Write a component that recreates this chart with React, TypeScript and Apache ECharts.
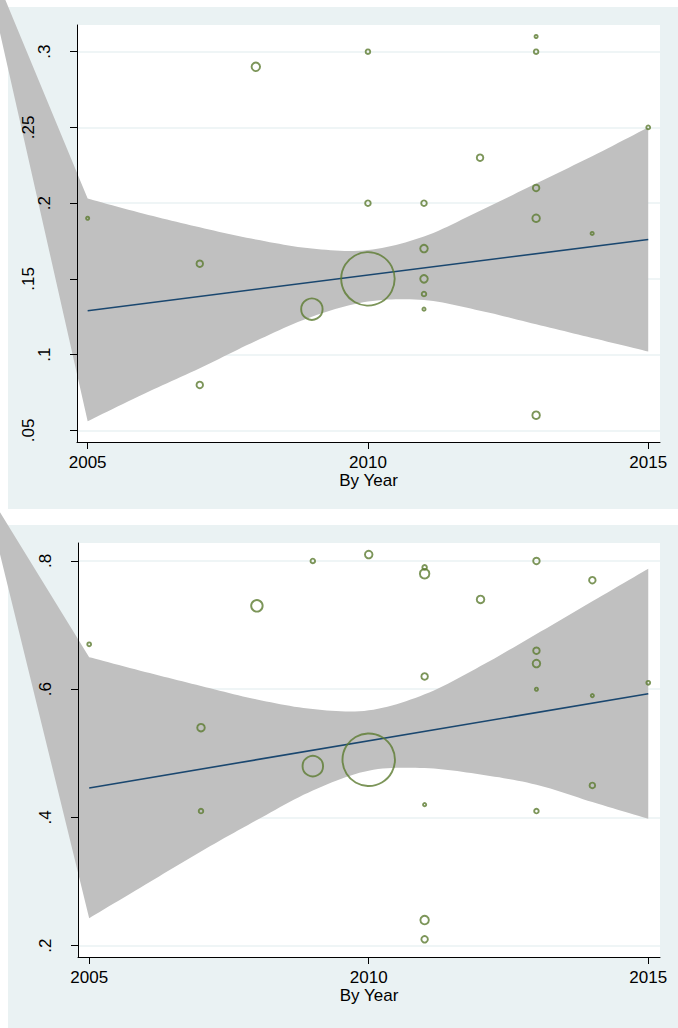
import React, { useEffect, useRef } from "react";
import * as echarts from "echarts";

// ---------- data ----------
const xTickValues = [2005, 2010, 2015];
const xTickLabels = ["2005", "2010", "2015"];
const xAxisTitle = "By Year";

const topYTickValues = [0.05, 0.1, 0.15, 0.2, 0.25, 0.3];
const topYTickLabels = [".05", ".1", ".15", ".2", ".25", ".3"];
const topYMainLabelValues = [0.1, 0.2, 0.3];
const topYAltLabelValues = [0.05, 0.15, 0.25];

const bottomYTickValues = [0.2, 0.4, 0.6, 0.8];
const bottomYTickLabels = [".2", ".4", ".6", ".8"];

// top panel points
const topYears = [2005, 2007, 2007, 2008, 2009, 2010, 2010, 2010, 2011, 2011, 2011, 2011, 2011, 2012, 2013, 2013, 2013, 2013, 2013, 2014, 2015];
const topValues = [0.19, 0.16, 0.08, 0.29, 0.13, 0.30, 0.20, 0.15, 0.20, 0.17, 0.15, 0.14, 0.13, 0.23, 0.31, 0.30, 0.21, 0.19, 0.06, 0.18, 0.25];
const topWeights = [1.1, 4.7, 4.7, 8.0, 51, 2.3, 3.4, 318, 3.4, 6.3, 6.3, 2.3, 1.1, 4.7, 1.1, 2.3, 4.7, 6.3, 6.3, 1.1, 1.6];

// top panel fit and confidence band
const topFitYears = [2005, 2015];
const topFitValues = [0.129, 0.176];
const bandYears = [2005, 2006, 2007, 2008, 2009, 2010, 2011, 2012, 2013, 2014, 2015];
const topUpper = [0.203, 0.193, 0.184, 0.176, 0.170, 0.169, 0.178, 0.195, 0.213, 0.231, 0.250];
const topLower = [0.056, 0.074, 0.091, 0.109, 0.125, 0.135, 0.136, 0.129, 0.120, 0.111, 0.102];
const topBandStray = [2003.03, 0.379];

// bottom panel points
const bottomYears = [2005, 2007, 2007, 2008, 2009, 2009, 2010, 2010, 2011, 2011, 2011, 2011, 2011, 2011, 2012, 2013, 2013, 2013, 2013, 2013, 2014, 2014, 2014, 2015];
const bottomValues = [0.67, 0.54, 0.41, 0.73, 0.80, 0.48, 0.81, 0.49, 0.79, 0.78, 0.62, 0.42, 0.24, 0.21, 0.74, 0.80, 0.66, 0.64, 0.60, 0.41, 0.77, 0.59, 0.45, 0.61];
const bottomWeights = [1.6, 6.3, 2.3, 14.7, 2.3, 46.7, 6.3, 306, 2.3, 10, 4.7, 1.1, 8.0, 4.7, 6.3, 4.7, 4.7, 6.3, 1.1, 2.3, 4.7, 1.1, 3.4, 1.6];

const bottomFitYears = [2005, 2015];
const bottomFitValues = [0.446, 0.593];
const bottomUpper = [0.650, 0.627, 0.605, 0.584, 0.569, 0.567, 0.592, 0.636, 0.686, 0.737, 0.788];
const bottomLower = [0.243, 0.295, 0.347, 0.396, 0.442, 0.473, 0.477, 0.467, 0.451, 0.424, 0.398];
const bottomBandStray = [2003.10, 0.919];

// ---------- styles ----------
const FONT = "'Liberation Sans', Arial, Helvetica, sans-serif";
const BG = "#eaf2f3";
const GRIDLINE = "#eaf2f3";
const BAND = "#c0c0c0";
const FIT = "#1a476f";
const MARK = "#5b7b30";
const FS = 17;

function lookup(values: number[], labels: string[]) {
  return (v: number) => {
    const i = values.findIndex((t) => Math.abs(t - v) < 1e-9);
    return i >= 0 ? labels[i] : "";
  };
}

// Catmull-Rom smoothing of screen points (rendering only)
function smoothPts(pts: number[][]): number[][] {
  const out: number[][] = [];
  const n = pts.length;
  for (let i = 0; i < n - 1; i++) {
    const p0 = pts[Math.max(0, i - 1)], p1 = pts[i], p2 = pts[i + 1], p3 = pts[Math.min(n - 1, i + 2)];
    const steps = 12;
    for (let s = 0; s < steps; s++) {
      const t = s / steps, t2 = t * t, t3 = t2 * t;
      const f = (a: number, b: number, c: number, d: number) =>
        0.5 * (2 * b + (-a + c) * t + (2 * a - 5 * b + 4 * c - d) * t2 + (-a + 3 * b - 3 * c + d) * t3);
      out.push([f(p0[0], p1[0], p2[0], p3[0]), f(p0[1], p1[1], p2[1], p3[1])]);
    }
  }
  out.push(pts[n - 1]);
  return out;
}

function gridLineAxis(gridIndex: number, min: number, max: number, ticks: number[]) {
  return {
    type: "value", gridIndex, position: "left", min, max, z: 0,
    axisLine: { show: false },
    axisTick: { show: false, customValues: ticks },
    axisLabel: { show: false },
    splitLine: { show: true, lineStyle: { color: GRIDLINE, width: 1.5 } },
  };
}

function labelAxis(gridIndex: number, min: number, max: number, ticks: number[], labelValues: number[], fmt: (v: number) => string, margin: number, showLine: boolean) {
  return {
    type: "value", gridIndex, position: "left", min, max, z: 10,
    axisLine: { show: showLine, onZero: false, lineStyle: { color: "#000", width: 1 } },
    axisTick: { show: showLine, length: 7, customValues: ticks, lineStyle: { color: "#000", width: 1 } },
    axisLabel: { show: true, customValues: labelValues, rotate: 90, margin, fontSize: FS, color: "#000", fontFamily: FONT, formatter: fmt },
    splitLine: { show: false },
  };
}

function xAxisDef(gridIndex: number, min: number, max: number) {
  return {
    type: "value", gridIndex, position: "bottom", min, max, z: 10,
    name: xAxisTitle, nameLocation: "middle", nameGap: 27,
    nameTextStyle: { fontSize: FS, color: "#000", fontFamily: FONT },
    axisLine: { show: true, onZero: false, lineStyle: { color: "#000", width: 1 } },
    axisTick: { show: true, length: 7, customValues: xTickValues, lineStyle: { color: "#000", width: 1 } },
    axisLabel: { show: true, customValues: xTickValues, margin: 12, fontSize: FS, color: "#000", fontFamily: FONT, formatter: lookup(xTickValues, xTickLabels) },
    splitLine: { show: false },
  };
}

function panelSeries(xi: number, yi: number, years: number[], values: number[], weights: number[], upper: number[], lower: number[], fitX: number[], fitY: number[], stray: number[]) {
  return [
    {
      type: "custom", xAxisIndex: xi, yAxisIndex: yi, clip: false, silent: true, z: 2,
      data: [stray],
      renderItem: (_p: any, api: any) => {
        const up = smoothPts(bandYears.map((x, i) => api.coord([x, upper[i]])));
        const lo = smoothPts(bandYears.map((x, i) => api.coord([x, lower[i]])));
        const pts = [api.coord(stray), ...up, ...lo.reverse()];
        return {
          type: "polygon",
          shape: { points: pts },
          style: { fill: BAND, stroke: null },
        };
      },
    },
    {
      type: "line", xAxisIndex: xi, yAxisIndex: yi, symbol: "none", silent: true, z: 3,
      lineStyle: { color: FIT, width: 1.6 },
      data: fitX.map((x, i) => [x, fitY[i]]),
    },
    {
      type: "scatter", xAxisIndex: xi, yAxisIndex: yi, silent: true, z: 4,
      symbol: "circle",
      symbolSize: (d: number[]) => 3 * Math.sqrt(d[2]),
      itemStyle: { color: "rgba(0,0,0,0)", borderColor: MARK, borderWidth: 1.9 },
      data: years.map((x, i) => [x, values[i], weights[i]]),
    },
  ];
}

export default function App() {
  const ref = useRef<HTMLDivElement>(null);
  useEffect(() => {
    document.body.style.margin = "0";
    const chart = echarts.init(ref.current!, undefined, { renderer: "svg" });
    const topMin = 0.0423, topMax = 0.3176;
    const botMin = 0.1824, botMax = 0.828;
    const option: any = {
      animation: false,
      textStyle: { fontFamily: FONT },
      graphic: {
        elements: [
          { type: "rect", z: -10, silent: true, shape: { x: 8, y: 7, width: 670, height: 502 }, style: { fill: BG } },
          { type: "rect", z: -10, silent: true, shape: { x: 8, y: 525, width: 670, height: 503 }, style: { fill: BG } },
        ],
      },
      grid: [
        { left: 77, top: 25, width: 583, height: 417, show: true, backgroundColor: "#fff", borderWidth: 0, containLabel: false, outerBoundsMode: "none" },
        { left: 78, top: 543, width: 582, height: 414, show: true, backgroundColor: "#fff", borderWidth: 0, containLabel: false, outerBoundsMode: "none" },
      ],
      xAxis: [xAxisDef(0, 2004.81, 2015.21), xAxisDef(1, 2004.8, 2015.21)],
      yAxis: [
        gridLineAxis(0, topMin, topMax, topYTickValues),
        labelAxis(0, topMin, topMax, topYTickValues, topYMainLabelValues, lookup(topYTickValues, topYTickLabels), 24, true),
        labelAxis(0, topMin, topMax, topYTickValues, topYAltLabelValues, lookup(topYTickValues, topYTickLabels), 40, false),
        gridLineAxis(1, botMin, botMax, bottomYTickValues),
        labelAxis(1, botMin, botMax, bottomYTickValues, bottomYTickValues, lookup(bottomYTickValues, bottomYTickLabels), 24, true),
      ],
      series: [
        ...panelSeries(0, 0, topYears, topValues, topWeights, topUpper, topLower, topFitYears, topFitValues, topBandStray),
        ...panelSeries(1, 3, bottomYears, bottomValues, bottomWeights, bottomUpper, bottomLower, bottomFitYears, bottomFitValues, bottomBandStray),
      ],
    };
    chart.setOption(option);
    return () => chart.dispose();
  }, []);
  return <div ref={ref} style={{ width: 678, height: 1028 }} />;
}
